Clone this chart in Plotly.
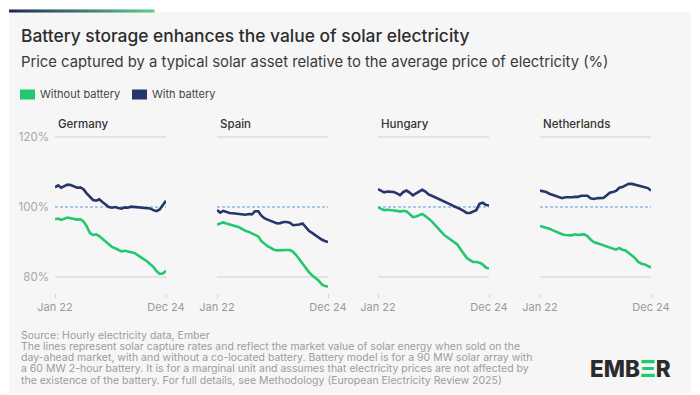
import plotly.graph_objects as go
import pandas as pd

# ---------------- data ----------------
months = pd.date_range("2022-01-01", periods=36, freq="MS")
countries = ["Germany", "Spain", "Hungary", "Netherlands"]

germany_without = [96.5, 96.7, 96.3, 96.6, 97.0, 96.8, 96.5, 96.4, 96.5, 95.9, 94.5, 92.6,
                   92.0, 92.2, 91.7, 90.9, 90.0, 89.1, 88.6, 88.2, 87.7, 87.3, 87.5, 87.2,
                   87.1, 86.9, 86.4, 85.8, 85.1, 84.5, 83.8, 82.9, 81.7, 80.9, 81.0, 81.8]
germany_with = [105.6, 106.2, 105.5, 106.0, 106.4, 106.3, 106.0, 105.5, 105.6, 105.1, 103.9, 102.8,
                102.0, 101.8, 102.2, 101.4, 100.6, 100.0, 99.8, 100.0, 99.7, 99.5, 99.9, 99.8,
                100.1, 100.0, 99.9, 99.9, 99.8, 99.7, 99.6, 99.1, 98.8, 99.3, 100.5, 101.8]

spain_without = [95.0, 95.3, 95.6, 95.3, 95.1, 94.8, 94.5, 94.2, 93.6, 93.2, 92.9, 92.4,
                 92.1, 91.6, 90.3, 89.4, 88.8, 88.3, 87.8, 87.6, 87.7, 87.8, 87.7, 87.7,
                 87.2, 86.2, 85.0, 83.8, 82.7, 81.4, 80.5, 79.8, 79.0, 77.9, 77.4, 77.3]
spain_with = [99.1, 98.4, 98.9, 98.5, 98.3, 98.2, 98.1, 98.0, 97.7, 97.8, 98.0, 97.9,
              98.8, 98.8, 97.6, 96.8, 96.4, 96.1, 95.7, 95.3, 95.4, 95.7, 95.7, 95.5,
              94.8, 94.8, 95.0, 95.3, 94.3, 93.2, 92.6, 92.0, 91.2, 90.7, 90.3, 90.0]

hungary_without = [99.9, 99.4, 99.1, 99.2, 99.2, 99.0, 98.9, 98.7, 98.9, 98.7, 98.0, 97.1,
                   97.3, 97.6, 98.0, 97.4, 96.7, 95.9, 94.9, 93.9, 92.6, 91.9, 91.3, 90.6,
                   90.0, 89.3, 88.0, 86.7, 85.5, 84.8, 84.3, 84.3, 84.1, 83.6, 82.7, 82.4]
hungary_with = [105.1, 104.5, 104.2, 104.4, 104.4, 104.3, 103.9, 103.4, 104.3, 104.7, 104.1, 103.3,
                103.9, 104.4, 104.9, 104.4, 103.6, 103.2, 102.8, 102.5, 102.0, 101.6, 101.2, 100.7,
                100.2, 99.9, 99.4, 98.9, 98.3, 98.3, 98.6, 99.1, 100.9, 101.2, 100.6, 100.4]

netherlands_without = [94.6, 94.4, 94.1, 93.8, 93.4, 93.0, 92.4, 92.2, 92.0, 91.9, 91.9, 92.2,
                       92.0, 92.1, 92.2, 91.7, 90.7, 90.0, 89.7, 89.3, 89.0, 88.7, 88.4, 88.2,
                       87.8, 88.3, 87.8, 87.6, 86.9, 86.3, 85.4, 84.3, 83.8, 83.6, 83.2, 82.7]
netherlands_with = [104.7, 104.6, 104.3, 103.8, 103.5, 103.3, 102.9, 102.5, 102.8, 102.7, 102.8, 102.9,
                    102.9, 103.2, 103.3, 103.2, 102.5, 102.3, 102.5, 102.5, 102.6, 103.3, 104.1, 104.3,
                    104.6, 105.5, 105.7, 106.2, 106.6, 106.6, 106.4, 106.2, 105.9, 105.6, 105.4, 104.7]

without_series = [germany_without, spain_without, hungary_without, netherlands_without]
with_series = [germany_with, spain_with, hungary_with, netherlands_with]

series_names = ["Without battery", "With battery"]
x_tick_labels = ["Jan 22", "Dec 24"]
y_ticks = [80, 100, 120]
y_tick_labels = ["80%", "100%", "120%"]
gridline_values = [80, 120]
reference_value = 100

title = "Battery storage enhances the value of solar electricity"
subtitle = "Price captured by a typical solar asset relative to the average price of electricity (%)"
footer_lines = [
    "Source: Hourly electricity data, Ember",
    "The lines represent solar capture rates and reflect the market value of solar energy when sold on the",
    "day-ahead market, with and without a co-located battery. Battery model is for a 90 MW solar array with",
    "a 60 MW 2-hour battery. It is for a marginal unit and assumes that electricity prices are not affected by",
    "the existence of the battery. For full details, see Methodology (European Electricity Review 2025)",
]

# ---------------- style ----------------
W, H = 700, 395
FONT = "Inter"
GREEN = "#22c86f"
NAVY = "#27356b"
DASH = "#5a9ad8"
GRID = "#dddddd"
PANEL = "#f6f6f6"


def fx(px):
    return px / W


def fy(py):
    return 1 - py / H


panel_left = [55, 217, 378, 540]
panel_width = 111
plot_top, plot_bottom = 128, 293
# 120% at y=137, 80% at y=277 (3.5 px per %)
y_range = [80 - (plot_bottom - 277) / 3.5, 120 + (137 - plot_top) / 3.5]

fig = go.Figure()
shapes = []
annotations = []

# background panel
shapes.append(dict(type="rect", xref="paper", yref="paper", x0=fx(9), x1=fx(691),
                   y0=fy(393), y1=fy(12), fillcolor=PANEL, line=dict(width=0), layer="below"))

# gradient bar on top
n_seg = 48
c0 = (0x1f, 0x28, 0x55)
c1 = (0x5c, 0xcc, 0x8c)
x_start, x_end = 9, 154
for i in range(n_seg):
    t = i / (n_seg - 1)
    col = "rgb(%d,%d,%d)" % tuple(int(c0[k] + (c1[k] - c0[k]) * t) for k in range(3))
    xa = x_start + (x_end - x_start) * i / n_seg
    xb = x_start + (x_end - x_start) * (i + 1) / n_seg + 0.5
    shapes.append(dict(type="rect", xref="paper", yref="paper", x0=fx(xa), x1=fx(xb),
                       y0=fy(12.5), y1=fy(9.5), fillcolor=col, line=dict(width=0), layer="below"))

layout_axes = {}
for i, c in enumerate(countries):
    k = "" if i == 0 else str(i + 1)
    xa = "x" + k
    ya = "y" + k
    fig.add_trace(go.Scatter(x=months, y=without_series[i], mode="lines", name=series_names[0],
                             line=dict(color=GREEN, width=2.6), xaxis=xa, yaxis=ya,
                             showlegend=False))
    fig.add_trace(go.Scatter(x=months, y=with_series[i], mode="lines", name=series_names[1],
                             line=dict(color=NAVY, width=2.6), xaxis=xa, yaxis=ya,
                             showlegend=False))
    layout_axes["xaxis" + k] = dict(
        domain=[fx(panel_left[i]), fx(panel_left[i] + panel_width)],
        anchor=ya, range=[months[0], months[-1]], automargin=False,
        tickvals=[months[0], months[-1]], ticktext=x_tick_labels,
        ticks="outside", ticklen=4, tickwidth=1, tickcolor="#d4d4d4",
        tickfont=dict(family=FONT, size=11, color="#9a9a9a"),
        showgrid=False, zeroline=False, showline=False, fixedrange=True,
    )
    layout_axes["yaxis" + k] = dict(
        domain=[fy(plot_bottom), fy(plot_top)], anchor=xa, range=y_range, automargin=False,
        tickvals=y_ticks, ticktext=y_tick_labels, showticklabels=(i == 0),
        ticks="", ticklabelstandoff=5,
        tickfont=dict(family=FONT, size=11.5, color="#a6a6a6"),
        showgrid=False, zeroline=False, showline=False, fixedrange=True,
    )
    for g in gridline_values:
        shapes.append(dict(type="line", xref=xa + " domain", yref=ya, x0=0, x1=1, y0=g, y1=g,
                           line=dict(color=GRID, width=1.5), layer="below"))
    shapes.append(dict(type="line", xref=xa + " domain", yref=ya, x0=0, x1=1,
                       y0=reference_value, y1=reference_value,
                       line=dict(color=DASH, width=1, dash="3px,2px"), layer="below"))
    annotations.append(dict(text=c, xref="paper", yref="paper", x=fx(panel_left[i] + 1),
                            y=fy(124), xanchor="left", yanchor="middle", showarrow=False,
                            font=dict(family=FONT, size=11.5, color="#333333", weight=500)))

# title & subtitle
annotations.append(dict(text=title, xref="paper", yref="paper", x=fx(19), y=fy(35),
                        xanchor="left", yanchor="middle", showarrow=False,
                        font=dict(family=FONT, size=17.4, color="#2d2d2d", weight=500)))
annotations.append(dict(text=subtitle, xref="paper", yref="paper", x=fx(19), y=fy(62),
                        xanchor="left", yanchor="middle", showarrow=False,
                        font=dict(family=FONT, size=14.8, color="#3a3a3a")))

# legend
legend_items = [(20, GREEN, series_names[0]), (132, NAVY, series_names[1])]
for lx, col, name in legend_items:
    shapes.append(dict(type="rect", xref="paper", yref="paper", x0=fx(lx), x1=fx(lx + 15),
                       y0=fy(99.5), y1=fy(89.5), fillcolor=col, line=dict(width=0)))
    annotations.append(dict(text=name, xref="paper", yref="paper", x=fx(lx + 18), y=fy(94),
                            xanchor="left", yanchor="middle", showarrow=False,
                            font=dict(family=FONT, size=11, color="#444444")))

# footer
footer_y = [335, 346.3, 357.6, 368.9, 380.2]
for t, yy in zip(footer_lines, footer_y):
    annotations.append(dict(text=t, xref="paper", yref="paper", x=fx(19), y=fy(yy),
                            xanchor="left", yanchor="middle", showarrow=False,
                            font=dict(family=FONT, size=10.5, color="#9c9c9c")))

# logo
annotations.append(dict(text="EMB<span style='color:#1fc96f'>Ξ</span>R", xref="paper", yref="paper",
                        x=fx(630), y=fy(368), xanchor="center", yanchor="middle", showarrow=False,
                        font=dict(family=FONT, size=22.5, color="#2b2b2b", weight=800)))

fig.update_layout(
    width=W, height=H, margin=dict(l=0, r=0, t=0, b=0, autoexpand=False),
    paper_bgcolor="white", plot_bgcolor="rgba(0,0,0,0)",
    shapes=shapes, annotations=annotations, showlegend=False,
    font=dict(family=FONT),
    **layout_axes,
)

fig.write_html("out.html")
